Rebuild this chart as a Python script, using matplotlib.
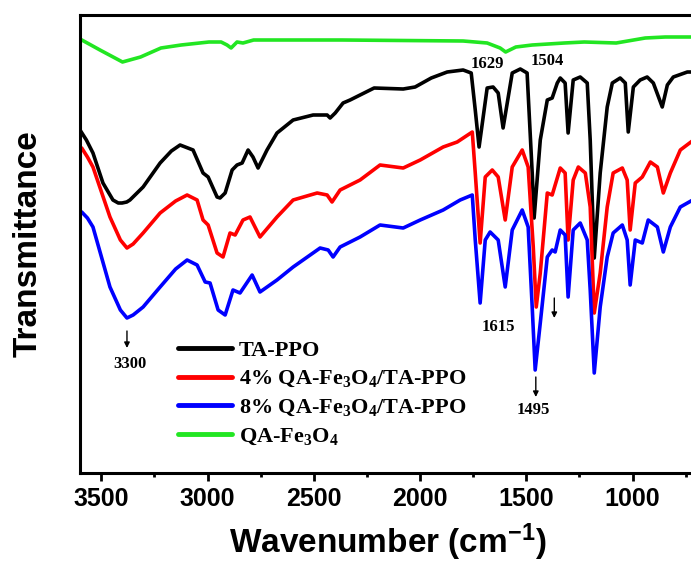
import matplotlib
matplotlib.use("Agg")
import matplotlib.pyplot as plt
from matplotlib.ticker import MultipleLocator

plt.rcParams['mathtext.fontset'] = 'custom'
plt.rcParams['mathtext.rm'] = 'Liberation Serif:bold'
plt.rcParams['mathtext.bf'] = 'Liberation Serif:bold'
plt.rcParams['mathtext.it'] = 'Liberation Serif:bold'
plt.rcParams['mathtext.sf'] = 'Liberation Sans:bold'
plt.rcParams['mathtext.default'] = 'rm'

# ---- data (wavenumber in cm^-1, transmittance in arbitrary offset units) ----
black_wn = [3600, 3570, 3539, 3492, 3445, 3420, 3402, 3380, 3365, 3303, 3223, 3170, 3129, 3068,
            3021, 2997, 2955, 2941, 2917, 2884, 2861, 2837, 2809, 2786, 2762, 2720, 2673, 2597,
            2503, 2437, 2423, 2399, 2362, 2329, 2216, 2079, 2023, 1947, 1872, 1797, 1759, 1740,
            1722, 1684, 1656, 1632, 1609, 1566, 1528, 1496, 1472, 1463, 1434, 1401, 1378, 1354,
            1340, 1317, 1303, 1279, 1246, 1213, 1199, 1180, 1152, 1119, 1095, 1058, 1034, 1020,
            996, 964, 931, 902, 860, 836, 808, 742, 700]
black_t = [343, 333, 320, 290, 273, 270, 270, 271, 273, 286, 310, 322, 328, 323,
           300, 296, 276, 275, 280, 303, 308, 310, 323, 316, 305, 323, 340, 353,
           358, 358, 355, 360, 370, 373, 385, 384, 386, 395, 401, 403, 400, 363,
           326, 385, 386, 380, 345, 400, 404, 400, 300, 255, 333, 373, 375, 390,
           395, 390, 340, 393, 396, 390, 333, 215, 300, 366, 390, 395, 390, 341,
           386, 393, 396, 390, 366, 388, 396, 401, 401]

red_wn = [3592, 3565, 3539, 3459, 3410, 3379, 3350, 3303, 3223, 3150, 3096, 3049, 3021, 2997,
          2955, 2927, 2894, 2870, 2833, 2800, 2753, 2673, 2597, 2484, 2437, 2414, 2376, 2282,
          2188, 2079, 1999, 1891, 1825, 1754, 1740, 1717, 1693, 1660, 1632, 1599, 1566, 1519,
          1491, 1467, 1453, 1434, 1401, 1378, 1340, 1317, 1303, 1279, 1255, 1222, 1199, 1180,
          1152, 1119, 1091, 1048, 1025, 1011, 987, 954, 916, 883, 855, 822, 775, 700]
red_t = [325, 316, 306, 256, 233, 225, 229, 240, 260, 272, 278, 273, 253, 248,
         220, 216, 240, 238, 253, 256, 236, 256, 273, 280, 278, 271, 283, 293,
         308, 305, 313, 326, 331, 341, 300, 230, 296, 303, 296, 253, 306, 323,
         306, 226, 166, 200, 280, 278, 305, 300, 233, 293, 306, 300, 266, 160,
         200, 266, 300, 305, 293, 243, 290, 296, 311, 306, 280, 300, 323, 335]

blue_wn = [3592, 3565, 3539, 3459, 3410, 3379, 3350, 3303, 3223, 3150, 3096, 3049, 3011, 2988,
           2950, 2917, 2880, 2847, 2790, 2753, 2673, 2597, 2470, 2432, 2409, 2376, 2282, 2188,
           2079, 1999, 1891, 1811, 1754, 1740, 1717, 1693, 1670, 1632, 1599, 1566, 1519, 1491,
           1472, 1458, 1434, 1401, 1378, 1364, 1340, 1317, 1303, 1279, 1246, 1213, 1199, 1180,
           1152, 1119, 1091, 1048, 1025, 1011, 987, 954, 926, 883, 855, 822, 775, 700]
blue_t = [261, 255, 246, 186, 163, 155, 158, 166, 186, 204, 213, 208, 191, 190,
          163, 158, 183, 180, 198, 181, 193, 206, 225, 223, 216, 226, 236, 248,
          245, 253, 263, 273, 278, 233, 170, 233, 241, 233, 186, 243, 263, 246,
          166, 103, 150, 216, 223, 221, 243, 238, 176, 243, 250, 233, 183, 100,
          166, 216, 240, 248, 233, 188, 233, 230, 253, 246, 221, 246, 266, 275]

green_wn = [3600, 3506, 3400, 3315, 3219, 3124, 2993, 2936, 2908, 2889, 2861, 2833, 2783, 2367,
            1797, 1684, 1623, 1597, 1549, 1472, 1321, 1227, 1077, 940, 846, 700]
green_t = [434, 423, 411, 416, 425, 428, 431, 431, 428, 425, 431, 430, 433, 433,
           432, 430, 425, 421, 426, 428, 430, 431, 430, 435, 436, 436]

labels = ["TA-PPO", "4% QA-Fe$_3$O$_4$/TA-PPO", "8% QA-Fe$_3$O$_4$/TA-PPO", "QA-Fe$_3$O$_4$"]
colors = ["#000000", "#ff0000", "#0000ff", "#22e622"]

# peak annotations: (text, text_wn, text_t)
peak_texts = [("1629", 1684, 409), ("1504", 1401, 412), ("1615", 1632, 146),
              ("1495", 1467, 63), ("3300", 3365, 109)]
# arrows: (wn, t_start, t_end)
peak_arrows = [(1455, 96, 76), (1368, 175, 155), (3379, 142, 125)]

xticks = [3500, 3000, 2500, 2000, 1500, 1000]

fig = plt.figure(figsize=(6.91, 5.62), dpi=100)
ax = fig.add_axes([80 / 691, 89 / 562, 680 / 691, 458 / 562])

series = [(black_wn, black_t), (red_wn, red_t), (blue_wn, blue_t), (green_wn, green_t)]
for (wn, t), c, lab in zip(series, colors, labels):
    ax.plot(wn, t, color=c, lw=2.6, label=lab, solid_joinstyle='round', solid_capstyle='round')

ax.set_xlim(3600, 400)
ax.set_ylim(0, 458)
ax.set_xticks(xticks)
ax.xaxis.set_minor_locator(MultipleLocator(250))
ax.set_yticks([])
for s in ax.spines.values():
    s.set_linewidth(2.2)
ax.tick_params(axis='x', which='major', direction='out', length=6, width=2, pad=4,
               labelsize=18)
ax.tick_params(axis='x', which='minor', direction='out', length=3, width=2)
for lbl in ax.get_xticklabels():
    lbl.set_fontfamily('Liberation Sans')
    lbl.set_fontweight('bold')

ax.set_xlabel(r'Wavenumber (cm$\mathsf{^{-1}}$)', fontsize=24, fontweight='bold',
              family='Liberation Sans')
ax.xaxis.set_label_coords(0.453, -0.105)
ax.set_ylabel('Transmittance', fontsize=24, fontweight='bold', family='Liberation Sans')
ax.yaxis.set_label_coords(-0.053, 0.5)

for txt, x, y in peak_texts:
    ax.text(x, y, txt, ha='center', va='center', fontsize=12, fontweight='bold',
            family='Liberation Serif')
for x, y0, y1 in peak_arrows:
    ax.annotate('', xy=(x, y1), xytext=(x, y0),
                arrowprops=dict(arrowstyle='-|>', color='black', lw=1, mutation_scale=8,
                                shrinkA=0, shrinkB=0))

leg = ax.legend(loc='upper left', bbox_to_anchor=(0.144, 0.29), frameon=False,
                prop={'family': 'Liberation Serif', 'weight': 'bold', 'size': 16},
                handlelength=2.45, handletextpad=0.28, labelspacing=0.36,
                borderpad=0, borderaxespad=0)
for h in leg.get_lines():
    h.set_linewidth(3.5)

fig.savefig('out.png', dpi=100)
